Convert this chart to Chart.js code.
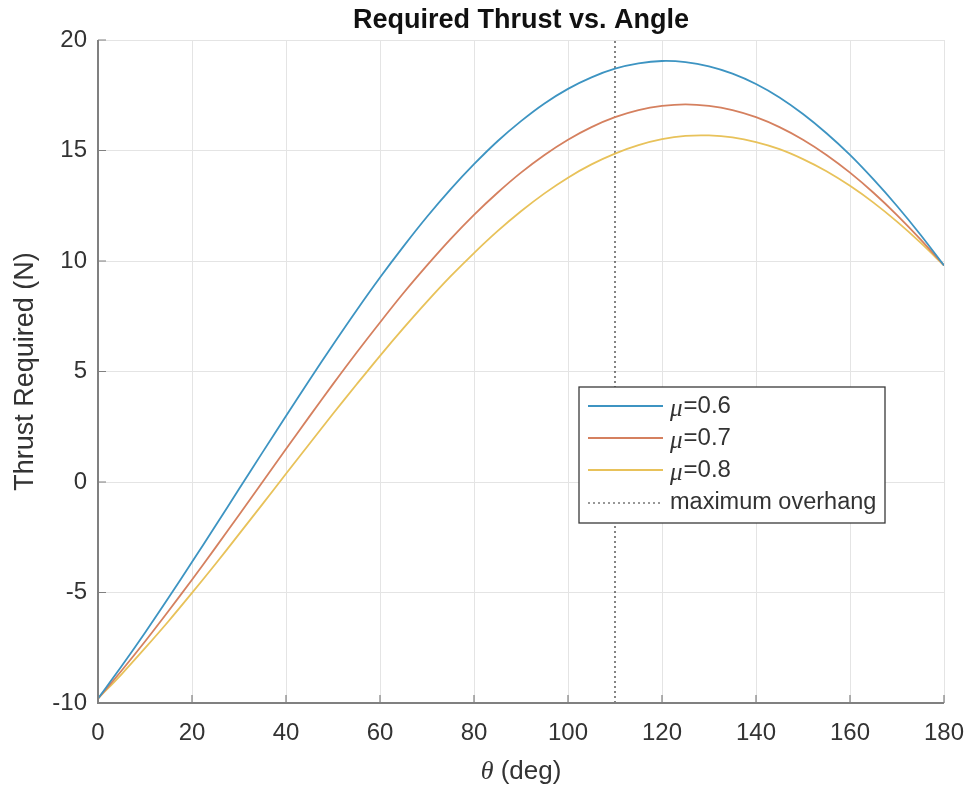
<!DOCTYPE html>
<html>
<head>
<meta charset="utf-8">
<script src="https://cdn.jsdelivr.net/npm/chart.js@4.4.1/dist/chart.umd.min.js"></script>
<style>
    html, body { margin: 0; padding: 0; background: #ffffff; }
    #wrap { width: 969px; height: 788px; position: relative; }
</style>
</head>
<body>
<div id="wrap"><canvas id="main-chart"></canvas></div>
<script>
// angle samples (deg) and thrust (N)
const thetaDeg = [0, 5, 10, 15, 20, 25, 30, 35, 40, 45, 50, 55, 60, 65, 70, 75, 80, 85, 90,
    95, 100, 105, 110, 115, 120, 125, 130, 135, 140, 145, 150, 155, 160, 165, 170, 175, 180];

const thrustMu06 = [-9.80, -8.34, -6.82, -5.24, -3.62, -1.98, -0.32, 1.34, 2.99, 4.62, 6.21, 7.76, 9.25,
    10.66, 12.00, 13.24, 14.38, 15.42, 16.33, 17.13, 17.79, 18.31, 18.70, 18.94, 19.05, 19.00, 18.81,
    18.48, 18.01, 17.40, 16.65, 15.78, 14.80, 13.69, 12.49, 11.19, 9.80];

const thrustMu07 = [-9.80, -8.54, -7.22, -5.84, -4.42, -2.97, -1.49, 0.00, 1.49, 2.97, 4.43, 5.85, 7.22,
    8.55, 9.80, 10.99, 12.09, 13.09, 14.00, 14.80, 15.49, 16.06, 16.51, 16.83, 17.02, 17.09, 17.02,
    16.83, 16.51, 16.06, 15.49, 14.80, 14.00, 13.09, 12.08, 10.98, 9.80];

const thrustMu08 = [-9.80, -8.70, -7.52, -6.30, -5.02, -3.71, -2.36, -1.00, 0.37, 1.73, 3.09, 4.41, 5.71,
    6.96, 8.16, 9.30, 10.36, 11.35, 12.25, 13.06, 13.77, 14.37, 14.86, 15.24, 15.51, 15.66, 15.68,
    15.59, 15.38, 15.06, 14.61, 14.06, 13.40, 12.64, 11.78, 10.83, 9.80];

const muLabels = ['0.6', '0.7', '0.8'];
const overhangAngle = 110;
const xTicks = [0, 20, 40, 60, 80, 100, 120, 140, 160, 180];
const yTicks = [-10, -5, 0, 5, 10, 15, 20];

const FONT = 'Arial, "Liberation Sans", Helvetica, sans-serif';
const SERIF_IT = 'italic 25px "Liberation Serif", "DejaVu Serif", serif';
const AXIS_GRAY = '#808080';
const TEXT_GRAY = '#333333';

const toPoints = (ys) => thetaDeg.map((t, i) => ({ x: t, y: ys[i] }));

const lineStyle = (color) => ({
    borderColor: color,
    backgroundColor: color,
    borderWidth: 1.8,
    pointRadius: 0,
    fill: false,
    tension: 0.3
});

// MATLAB style decorations: inward ticks, title, axis labels, legend inside the axes
const matlabDecor = {
    id: 'matlabDecor',
    afterDraw(chart) {
        const ctx = chart.ctx;
        const area = chart.chartArea;
        const xs = chart.scales.x;
        const ys = chart.scales.y;
        ctx.save();

        // inward ticks
        ctx.strokeStyle = AXIS_GRAY;
        ctx.lineWidth = 1.2;
        ctx.beginPath();
        xTicks.forEach(t => {
            const px = xs.getPixelForValue(t);
            ctx.moveTo(px, area.bottom);
            ctx.lineTo(px, area.bottom - 8);
        });
        yTicks.forEach(t => {
            const py = ys.getPixelForValue(t);
            ctx.moveTo(area.left, py);
            ctx.lineTo(area.left + 8, py);
        });
        ctx.stroke();

        // axis lines
        ctx.lineWidth = 2;
        ctx.beginPath();
        ctx.moveTo(area.left, area.top);
        ctx.lineTo(area.left, area.bottom);
        ctx.lineTo(area.right, area.bottom);
        ctx.stroke();

        const cx = (area.left + area.right) / 2;
        const cy = (area.top + area.bottom) / 2;

        // title
        ctx.fillStyle = '#111111';
        ctx.font = 'bold 27px ' + FONT;
        ctx.textAlign = 'center';
        ctx.textBaseline = 'middle';
        ctx.fillText('Required Thrust vs. Angle', cx, 21);

        // y label
        ctx.fillStyle = TEXT_GRAY;
        ctx.font = '27px ' + FONT;
        ctx.save();
        ctx.translate(26, cy);
        ctx.rotate(-Math.PI / 2);
        ctx.fillText('Thrust Required (N)', 0, 0);
        ctx.restore();

        // x label with italic theta
        const thetaFont = 'italic 26px "Liberation Serif", "DejaVu Serif", serif';
        const restFont = '26px ' + FONT;
        ctx.font = thetaFont;
        const wTheta = ctx.measureText('\u03B8').width;
        ctx.font = restFont;
        const rest = ' (deg)';
        const wRest = ctx.measureText(rest).width;
        const x0 = cx - (wTheta + wRest) / 2;
        const ly = area.bottom + 69;
        ctx.textAlign = 'left';
        ctx.font = thetaFont;
        ctx.fillText('\u03B8', x0, ly);
        ctx.font = restFont;
        ctx.fillText(rest, x0 + wTheta, ly);

        // legend box
        const bx = area.left + 481;
        const by = area.top + 347;
        const bw = 306;
        const bh = 136;
        ctx.fillStyle = '#ffffff';
        ctx.fillRect(bx, by, bw, bh);
        ctx.strokeStyle = '#3a3a3a';
        ctx.lineWidth = 1.3;
        ctx.strokeRect(bx, by, bw, bh);

        const rowY = [19, 51, 83, 116];
        chart.data.datasets.forEach((ds, i) => {
            const yy = by + rowY[i];
            ctx.strokeStyle = ds.borderColor;
            ctx.lineWidth = ds.borderDash && ds.borderDash.length ? 1.2 : 1.8;
            ctx.setLineDash(ds.borderDash || []);
            ctx.beginPath();
            ctx.moveTo(bx + 9, yy);
            ctx.lineTo(bx + 84, yy);
            ctx.stroke();
            ctx.setLineDash([]);

            ctx.fillStyle = TEXT_GRAY;
            ctx.textBaseline = 'middle';
            let tx = bx + 91;
            if (ds.mu) {
                ctx.font = SERIF_IT;
                ctx.fillText('\u03BC', tx, yy + 3);
                tx += ctx.measureText('\u03BC').width + 1;
                ctx.font = '24px ' + FONT;
                ctx.fillText('=' + ds.mu, tx, yy);
            } else {
                ctx.font = '23.5px ' + FONT;
                ctx.fillText(ds.label, tx, yy);
            }
        });

        ctx.restore();
    }
};

class ThrustChart {
    constructor() {
        this.chart = null;
        this.initializeChart();
    }

    initializeChart() {
        const ctx = document.getElementById('main-chart').getContext('2d');
        const colors = ['#3d94c2', '#d5805f', '#e8c25a'];
        const series = [thrustMu06, thrustMu07, thrustMu08];

        const datasets = series.map((ys, i) => Object.assign({
            label: '\u03BC=' + muLabels[i],
            mu: muLabels[i],
            data: toPoints(ys)
        }, lineStyle(colors[i])));

        datasets.push({
            label: 'maximum overhang',
            data: [{ x: overhangAngle, y: yTicks[0] }, { x: overhangAngle, y: yTicks[yTicks.length - 1] }],
            borderColor: '#333333',
            borderWidth: 1.2,
            borderDash: [2, 3],
            pointRadius: 0,
            fill: false
        });

        this.chart = new Chart(ctx, {
            type: 'line',
            data: { datasets },
            options: {
                responsive: true,
                maintainAspectRatio: false,
                animation: false,
                layout: {
                    padding: { top: 40, right: 25, bottom: 0, left: 0 }
                },
                plugins: {
                    legend: { display: false },
                    tooltip: { enabled: false },
                    title: { display: false }
                },
                scales: {
                    x: {
                        type: 'linear',
                        min: 0,
                        max: 180,
                        afterFit: (scale) => {
                            scale.height = 85;
                            scale.paddingLeft = 0;
                            scale.paddingRight = 0;
                        },
                        border: { display: false },
                        grid: {
                            color: '#e4e4e4',
                            lineWidth: 1,
                            drawTicks: false
                        },
                        ticks: {
                            stepSize: 20,
                            padding: 16,
                            color: TEXT_GRAY,
                            font: { family: FONT, size: 24 },
                            maxRotation: 0
                        }
                    },
                    y: {
                        min: -10,
                        max: 20,
                        afterFit: (scale) => {
                            scale.width = 98;
                            scale.paddingTop = 0;
                            scale.paddingBottom = 0;
                        },
                        border: { display: false },
                        grid: {
                            color: '#e4e4e4',
                            lineWidth: 1,
                            drawTicks: false
                        },
                        ticks: {
                            stepSize: 5,
                            padding: 11,
                            color: TEXT_GRAY,
                            font: { family: FONT, size: 24 }
                        }
                    }
                }
            },
            plugins: [matlabDecor]
        });
    }
}

document.addEventListener('DOMContentLoaded', () => {
    window.thrustChart = new ThrustChart();
});
</script>
</body>
</html>
